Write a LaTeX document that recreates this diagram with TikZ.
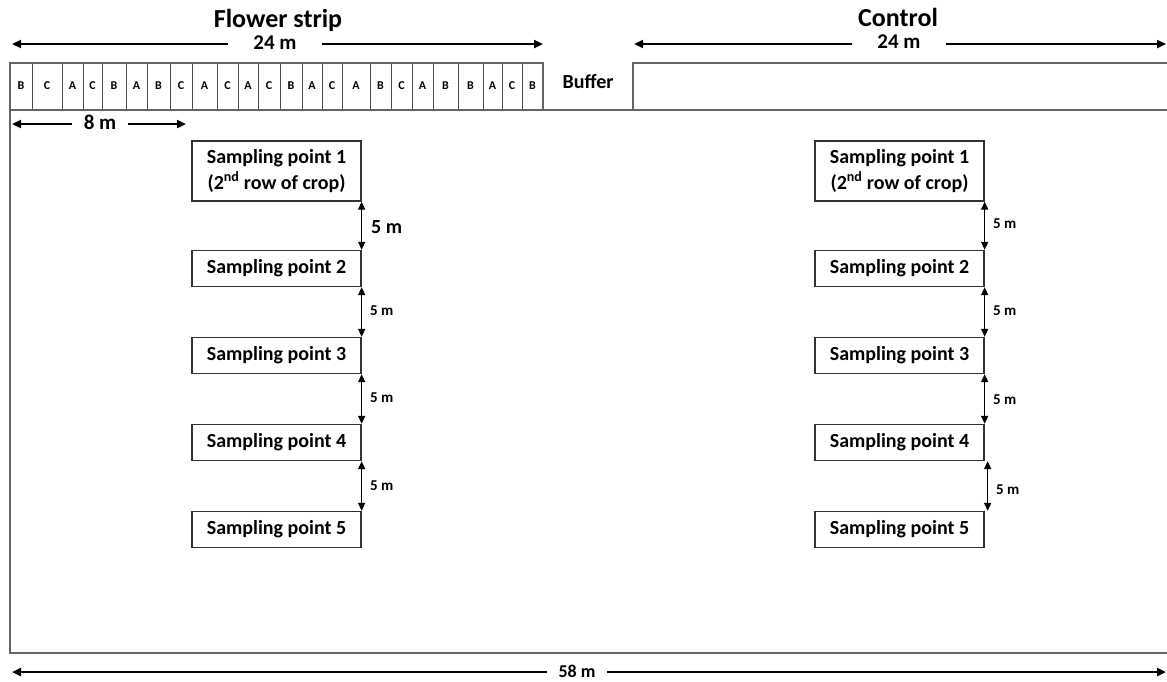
\documentclass[tikz,border=0pt]{standalone}
\usepackage{fontspec}
\setmainfont{Carlito}
\usetikzlibrary{arrows.meta}
\begin{document}
\begin{tikzpicture}[x=1pt,y=-1pt,
  field/.style={draw=black!60, line width=1.3pt},
  cell/.style={draw=black!70, line width=0.9pt},
  dimline/.style={line width=2.4pt, -{Triangle[length=9pt,width=8pt]}},
  dimlabel/.style={inner sep=0pt, font=\bfseries\fontsize{21}{25}\selectfont},
  title/.style={inner sep=0pt, font=\bfseries\fontsize{26}{30}\selectfont},
  gap/.style={line width=1.5pt, {Triangle[length=8pt,width=7pt]}-{Triangle[length=8pt,width=7pt]}},
  gaplabel/.style={inner sep=0pt, font=\bfseries\fontsize{15}{18}\selectfont},
  sbox/.style={draw=black!80, line width=1.3pt, minimum width=169pt, inner sep=0pt,
    align=center, font=\bfseries\fontsize{20}{26}\selectfont},
  letter/.style={inner sep=0pt, font=\bfseries\fontsize{12}{14}\selectfont}
]
\useasboundingbox (0,0) rectangle (1167,681);

% ---- titles ----
\node[title] (tFS) at (278,20) {Flower strip};
\node[title] (tC) at (898,17) {Control};

% ---- 24 m dimension of the flower strip ----
\coordinate (fsL) at (12,44);
\coordinate (fsR) at (543,44);
\node[dimlabel, minimum width=94pt] (fs24) at (275,43) {24 m};
\draw[dimline] (fs24.west |- fsL) -- (fsL);
\draw[dimline] (fs24.east |- fsR) -- (fsR);

% ---- 24 m dimension of the control ----
\coordinate (cL) at (634,44);
\coordinate (cR) at (1166,44);
\node[dimlabel, minimum width=93pt] (c24) at (899,42) {24 m};
\draw[dimline] (c24.west |- cL) -- (cL);
\draw[dimline] (c24.east |- cR) -- (cR);

% ---- flower strip cells ----
\foreach \xa/\xb/\l in {10/32/B,32/62/C,62/83/A,83/102/C,102/126/B,126/147/A,
  147/170/B,170/192/C,192/217/A,217/238/C,238/258/A,258/280/C,280/302/B,
  302/322/A,322/342/C,342/370/A,370/391/B,391/412/C,412/433/A,433/458/B,
  458/483/B,483/502/A,502/522/C,522/543/B}{
  \draw[cell] (\xa,63) rectangle (\xb,110);
  \node[letter] (c\xa) at ({(\xa+\xb)/2},86) {\l};
}
\node[inner sep=0pt, font=\bfseries\fontsize{20}{24}\selectfont] (buf) at (588,82) {Buffer};

% ---- field outline ----
\draw[field] (10,63) rectangle (543,110);
\draw[field] (1167,63) -- (633,63) -- (633,110);
\draw[field] (1167,110) -- (10,110) -- (10,653) -- (1167,653);

% ---- 8 m dimension ----
\coordinate (eL) at (12,124);
\coordinate (eR) at (186,124);
\node[dimlabel, minimum width=56pt] (e8) at (100,122) {8 m};
\draw[dimline] (e8.west |- eL) -- (eL);
\draw[dimline] (e8.east |- eR) -- (eR);

% ---- 58 m dimension ----
\coordinate (wL) at (12,672);
\coordinate (wR) at (1166,672);
\node[dimlabel, minimum width=60pt, font=\bfseries\fontsize{18}{22}\selectfont] (w58) at (577,671) {58 m};
\draw[dimline] (w58.west |- wL) -- (wL);
\draw[dimline] (w58.east |- wR) -- (wR);

% ---- sampling points, flower strip side ----
\node[sbox, minimum height=60pt] (l1) at (276.5,171)
  {Sampling point 1\\(2\textsuperscript{nd} row of crop)};
\node[sbox, minimum height=36pt] (l2) at (276.5,268.5) {Sampling point 2};
\node[sbox, minimum height=36pt] (l3) at (276.5,355.5) {Sampling point 3};
\node[sbox, minimum height=36pt] (l4) at (276.5,442.5) {Sampling point 4};
\node[sbox, minimum height=36pt] (l5) at (276.5,529.5) {Sampling point 5};

\draw[gap] (l1.south east) -- (l2.north east);
\draw[gap] (l2.south east) -- (l3.north east);
\draw[gap] (l3.south east) -- (l4.north east);
\draw[gap] (l4.south east) -- (l5.north east);
\node[gaplabel, font=\bfseries\fontsize{20}{24}\selectfont, anchor=west] (lg1) at (371,227) {5 m};
\node[gaplabel, anchor=west] (lg2) at (370,311) {5 m};
\node[gaplabel, anchor=west] (lg3) at (370,398) {5 m};
\node[gaplabel, anchor=west] (lg4) at (370,486) {5 m};

% ---- sampling points, control side ----
\node[sbox, minimum height=60pt] (r1) at (899.5,171)
  {Sampling point 1\\(2\textsuperscript{nd} row of crop)};
\node[sbox, minimum height=36pt] (r2) at (899.5,268.5) {Sampling point 2};
\node[sbox, minimum height=36pt] (r3) at (899.5,355.5) {Sampling point 3};
\node[sbox, minimum height=36pt] (r4) at (899.5,442.5) {Sampling point 4};
\node[sbox, minimum height=36pt] (r5) at (899.5,529.5) {Sampling point 5};

\draw[gap] (r1.south east) -- (r2.north east);
\draw[gap] (r2.south east) -- (r3.north east);
\draw[gap] (r3.south east) -- (r4.north east);
\draw[gap] ([xshift=3pt]r4.south east) -- ([xshift=3pt]r5.north east);
\node[gaplabel, anchor=west] (rg1) at (993,224) {5 m};
\node[gaplabel, anchor=west] (rg2) at (993,311) {5 m};
\node[gaplabel, anchor=west] (rg3) at (993,400) {5 m};
\node[gaplabel, anchor=west] (rg4) at (996,490) {5 m};
\end{tikzpicture}
\end{document}
